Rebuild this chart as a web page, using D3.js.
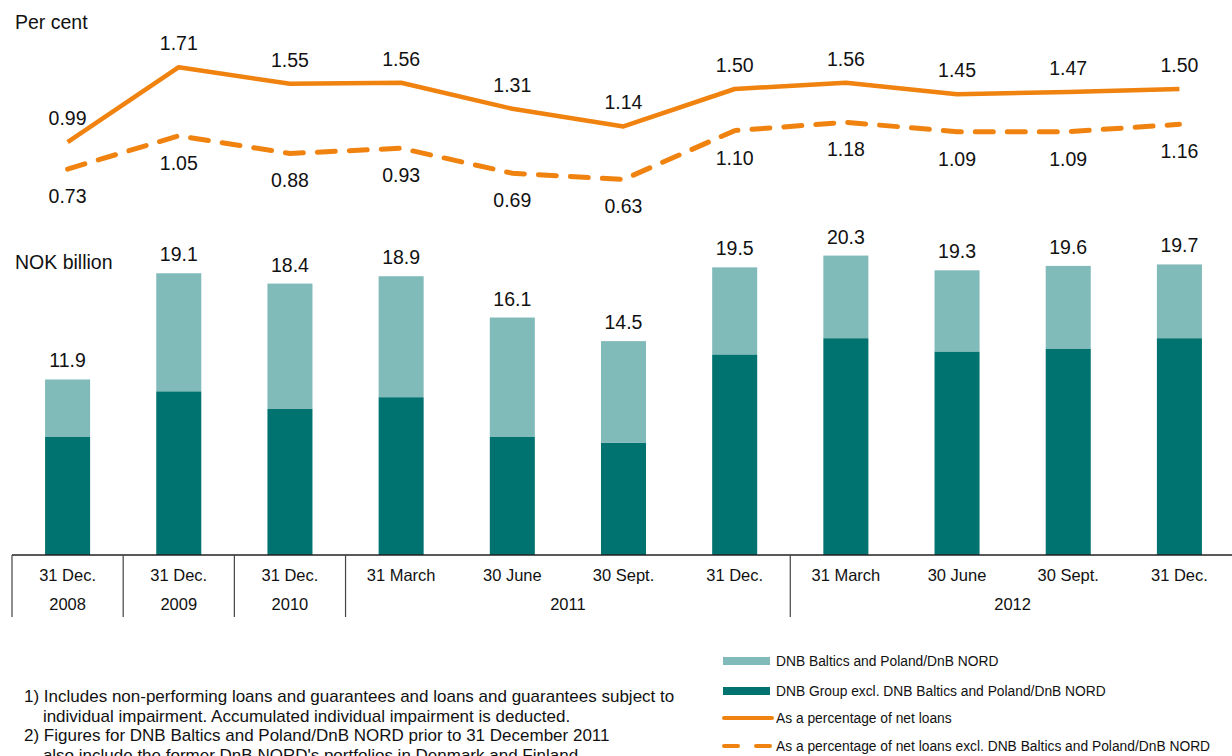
<!DOCTYPE html>
<html>
<head>
<meta charset="utf-8">
<script src="https://cdn.jsdelivr.net/npm/d3@7"></script>
<style>
  body { margin: 0; background: #fff; }
  svg { display: block; font-family: 'Liberation Sans', Arial, sans-serif; }
</style>
</head>
<body>
<div id="chart"></div>
<script>
// periods
const dates = ['31 Dec.', '31 Dec.', '31 Dec.', '31 March', '30 June', '30 Sept.', '31 Dec.',
  '31 March', '30 June', '30 Sept.', '31 Dec.'];
const years = ['2008', '2009', '2010', '2011', '2011', '2011', '2011', '2012', '2012', '2012', '2012'];

// NOK billion
const totals = [11.9, 19.1, 18.4, 18.9, 16.1, 14.5, 19.5, 20.3, 19.3, 19.6, 19.7];
const groupExcl = [8.0, 11.1, 9.9, 10.7, 8.0, 7.6, 13.6, 14.7, 13.8, 14.0, 14.7];
const baltics = [3.9, 8.0, 8.5, 8.2, 8.1, 6.9, 5.9, 5.6, 5.5, 5.6, 5.0];

// per cent
const pctNetLoans = [0.99, 1.71, 1.55, 1.56, 1.31, 1.14, 1.50, 1.56, 1.45, 1.47, 1.50];
const pctNetLoansExcl = [0.73, 1.05, 0.88, 0.93, 0.69, 0.63, 1.10, 1.18, 1.09, 1.09, 1.16];

const legendItems = [
  { label: 'DNB Baltics and Poland/DnB NORD', type: 'bar', color: '#80bab9' },
  { label: 'DNB Group excl. DNB Baltics and Poland/DnB NORD', type: 'bar', color: '#007370' },
  { label: 'As a percentage of net loans', type: 'line' },
  { label: 'As a percentage of net loans excl. DNB Baltics and Poland/DnB NORD', type: 'dash' }
];

const footnotes = [
  '1) Includes non-performing loans and guarantees and loans and guarantees subject to',
  '    individual impairment. Accumulated individual impairment is deducted.',
  '2) Figures for DNB Baltics and Poland/DnB NORD prior to 31 December 2011',
  '    also include the former DnB NORD\'s portfolios in Denmark and Finland.'
];

const W = 1232, H = 756;
const ORANGE = '#f0820f', LIGHT = '#80bab9', DARK = '#007370';
const baseY = 555;

const svg = d3.select('#chart').append('svg')
  .attr('width', W).attr('height', H);

const idx = d3.range(dates.length);
const x = d3.scaleBand().domain(idx).range([12, 1235]).paddingInner(0.595).paddingOuter(0.2975);
const xc = i => x(i) + x.bandwidth() / 2;
const step = x.step();
const left = 12;

const yBar = d3.scaleLinear().domain([0, 20]).range([baseY, baseY - 295]);
const yPct = d3.scaleLinear().domain([0, 1]).range([245, 141]);

// bars
const stackData = idx.map(i => ({ i, group: groupExcl[i], baltic: baltics[i] }));
const stack = d3.stack().keys(['group', 'baltic'])(stackData);
const colors = { group: DARK, baltic: LIGHT };

svg.append('g').selectAll('g').data(stack).join('g')
  .attr('fill', d => colors[d.key])
  .selectAll('rect').data(d => d).join('rect')
  .attr('x', d => x(d.data.i))
  .attr('width', x.bandwidth())
  .attr('y', d => yBar(d[1]))
  .attr('height', d => yBar(d[0]) - yBar(d[1]));

svg.append('g').selectAll('text').data(idx).join('text')
  .attr('x', xc)
  .attr('y', i => yBar(totals[i]) - 12)
  .attr('text-anchor', 'middle')
  .attr('font-size', 19.5)
  .attr('fill', '#111')
  .text(i => totals[i].toFixed(1));

// lines
const line = d3.line().x((d, i) => xc(i)).y(d => yPct(d));
svg.append('path').datum(pctNetLoans)
  .attr('d', line).attr('fill', 'none')
  .attr('stroke', ORANGE).attr('stroke-width', 4.5).attr('stroke-linejoin', 'round');
svg.append('path').datum(pctNetLoansExcl)
  .attr('d', line).attr('fill', 'none')
  .attr('stroke', ORANGE).attr('stroke-width', 5)
  .attr('stroke-dasharray', '18,14').attr('stroke-linecap', 'round');

svg.append('g').selectAll('text').data(pctNetLoans).join('text')
  .attr('x', (d, i) => xc(i))
  .attr('y', d => yPct(d) - 17)
  .attr('text-anchor', 'middle').attr('font-size', 19.5).attr('fill', '#111')
  .text(d => d.toFixed(2));
svg.append('g').selectAll('text').data(pctNetLoansExcl).join('text')
  .attr('x', (d, i) => xc(i))
  .attr('y', d => yPct(d) + 34)
  .attr('text-anchor', 'middle').attr('font-size', 19.5).attr('fill', '#111')
  .text(d => d.toFixed(2));

// unit titles
svg.append('text').attr('x', 15).attr('y', 29).attr('font-size', 19.5).attr('fill', '#111').text('Per cent');
svg.append('text').attr('x', 15).attr('y', 269).attr('font-size', 19.5).attr('fill', '#111').text('NOK billion');

// category table
svg.append('line').attr('x1', left).attr('x2', W).attr('y1', baseY).attr('y2', baseY)
  .attr('stroke', '#222').attr('stroke-width', 1.5);

svg.append('g').selectAll('text').data(idx).join('text')
  .attr('x', xc).attr('y', 581)
  .attr('text-anchor', 'middle').attr('font-size', 16.5).attr('fill', '#111')
  .text(i => dates[i]);

const yearGroups = d3.groups(idx, i => years[i]);
svg.append('g').selectAll('text').data(yearGroups).join('text')
  .attr('x', d => (xc(d[1][0]) + xc(d[1][d[1].length - 1])) / 2)
  .attr('y', 610)
  .attr('text-anchor', 'middle').attr('font-size', 16.5).attr('fill', '#111')
  .text(d => d[0]);

svg.append('g').selectAll('line').data(yearGroups).join('line')
  .attr('x1', d => left + d[1][0] * step).attr('x2', d => left + d[1][0] * step)
  .attr('y1', baseY).attr('y2', 617)
  .attr('stroke', '#444').attr('stroke-width', 1.2);

// legend
const lg = svg.append('g').attr('transform', 'translate(723,661)');
legendItems.forEach((d, k) => {
  const gy = [0, 30, 57, 85][k];
  const g = lg.append('g').attr('transform', `translate(0,${gy})`);
  if (d.type === 'bar') {
    g.append('rect').attr('x', 0).attr('y', -4).attr('width', 47).attr('height', 8).attr('fill', d.color);
  } else if (d.type === 'line') {
    g.append('line').attr('x1', 1).attr('x2', 49).attr('y1', 0).attr('y2', 0)
      .attr('stroke', ORANGE).attr('stroke-width', 4).attr('stroke-linecap', 'round');
  } else {
    g.append('line').attr('x1', 1).attr('x2', 49).attr('y1', 0).attr('y2', 0)
      .attr('stroke', ORANGE).attr('stroke-width', 4).attr('stroke-linecap', 'round')
      .attr('stroke-dasharray', '14,18');
  }
  g.append('text').attr('x', 53).attr('y', 4.5).attr('font-size', 13.8).attr('fill', '#111').text(d.label);
});

// footnotes (last line runs off the bottom edge, as in the source)
svg.append('g').selectAll('text').data(footnotes).join('text')
  .attr('x', 24).attr('y', (d, i) => 702 + i * 19.5)
  .attr('font-size', 17).attr('fill', '#111')
  .attr('xml:space', 'preserve').style('white-space', 'pre')
  .text(d => d);
</script>
</body>
</html>
